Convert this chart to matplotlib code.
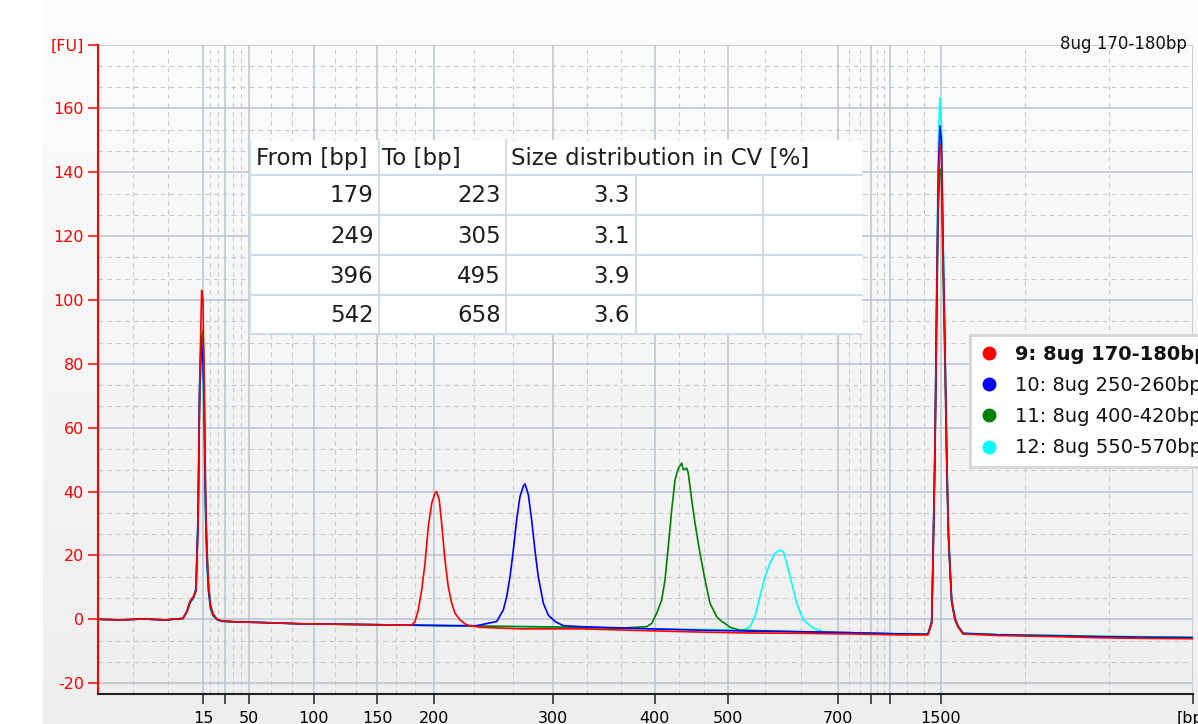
import numpy as np
import matplotlib
matplotlib.use("Agg")
import matplotlib.pyplot as plt
from matplotlib.lines import Line2D
from matplotlib.patches import Rectangle
from matplotlib.ticker import FixedLocator, FixedFormatter, MultipleLocator
from matplotlib.colors import LinearSegmentedColormap

plt.rcParams['font.family'] = ['DejaVu Sans']

# ladder: size [bp] and migration time [s]
ladder_bp = [15, 25, 50, 100, 150, 200, 300, 400, 500, 700, 850, 1000, 1500]
ladder_t = [42.0, 43.47, 45.07, 49.4, 53.6, 57.4, 65.3, 72.1, 77.0, 84.33, 86.5, 87.8, 91.2]
hidden_bp = [25, 850, 1000]

sample_names = ['9: 8ug 170-180bp', '10: 8ug 250-260bp', '11: 8ug 400-420bp', '12: 8ug 550-570bp']
sample_colors = ['#ff0000', '#0000ff', '#008000', '#00ffff']

# baseline before lower marker (same for all samples)
left_t = [35.0, 36.5, 38.0, 39.5, 40.5]
left_fu = [0.0, -0.2, 0.1, -0.2, 0.2]

# lower marker (15 bp)
lo_t = [40.67, 40.93, 41.13, 41.37, 41.53, 41.67, 41.77, 41.87, 41.91, 42.0,
        42.07, 42.13, 42.2, 42.27, 42.37, 42.5, 42.67, 42.93, 43.27, 44.13]
lo_red = [0.3, 2.5, 5.5, 7.0, 9.0, 30, 70, 95, 103, 100, 75, 50, 30, 20, 10, 4.0, 1.5, 0.0, -0.6, -0.8]
lo_blue = [0.3, 2.4, 5.2, 6.8, 9.5, 32, 72, 88, 86, 80, 68, 45, 28, 18, 9, 3.6, 1.3, -0.1, -0.6, -0.8]
lo_green = [0.2, 2.6, 5.6, 7.2, 8.8, 28, 66, 84, 88, 90.5, 80, 55, 33, 22, 11, 4.5, 1.8, 0.1, -0.5, -0.8]
lo_cyan = [0.3, 2.3, 5.0, 6.5, 9.8, 34, 74, 87, 84, 72, 60, 42, 26, 16, 8, 3.2, 1.0, -0.2, -0.7, -0.9]

# sample peaks with surrounding baseline
red_t = [45.8, 48.47, 51.8, 55.13, 55.93, 56.13, 56.35, 56.58, 56.8, 57.02, 57.25, 57.47, 57.58,
         57.75, 57.91, 58.13, 58.35, 58.58, 58.8, 59.13, 59.58, 60.47, 63.13, 67.13, 71.8,
         75.13, 78.47, 81.8, 85.13, 88.47]
red_fu = [-1.0, -1.4, -1.6, -1.8, -1.8, -0.7, 2.9, 9.2, 17.5, 29.0, 36.4, 39.5, 40.0,
          37.4, 30.0, 18.6, 10.2, 5.0, 1.9, -0.2, -1.8, -2.5, -3.0, -3.0, -3.6,
          -4.0, -4.3, -4.4, -4.6, -4.9]

blue_t = [45.8, 48.47, 51.8, 55.13, 58.47, 60.25, 61.58, 62.02, 62.25, 62.47, 62.69, 62.91,
          63.13, 63.35, 63.47, 63.69, 63.91, 64.13, 64.35, 64.69, 65.02, 65.47, 66.02, 67.13,
          71.8, 75.13, 78.47, 81.8, 85.13, 88.47]
blue_fu = [-1.0, -1.4, -1.6, -1.8, -2.0, -2.0, -0.7, 2.9, 7.1, 13.4, 21.7, 31.1,
           38.4, 41.6, 42.4, 39.0, 31.1, 21.7, 13.4, 5.0, 1.3, -0.7, -2.0, -2.3,
           -3.0, -3.4, -3.7, -3.9, -4.2, -4.6]

green_t = [45.8, 48.47, 51.8, 55.13, 58.47, 61.8, 65.13, 69.8, 71.58, 71.91, 72.25, 72.58,
           72.8, 73.02, 73.25, 73.47, 73.69, 73.91, 74.02, 74.25, 74.35, 74.58, 74.8, 75.13,
           75.47, 75.8, 76.25, 76.58, 76.8, 77.13, 77.8, 81.8, 85.13, 88.47]
green_fu = [-1.0, -1.4, -1.6, -1.8, -2.0, -2.2, -2.4, -2.8, -2.3, -1.3, 1.9, 6.0,
            12.3, 22.8, 34.3, 43.7, 47.3, 48.9, 46.8, 47.3, 45.8, 37.4, 30.1, 20.7,
            12.3, 5.0, 0.8, -0.7, -1.3, -2.5, -3.4, -3.9, -4.2, -4.6]

cyan_t = [45.8, 48.47, 51.8, 55.13, 58.47, 61.8, 65.13, 68.47, 71.8, 75.13, 78.02, 78.47,
          78.8, 79.13, 79.47, 79.8, 80.13, 80.47, 80.69, 80.91, 81.25, 81.58, 82.02, 82.69,
          83.35, 84.47, 88.47]
cyan_fu = [-1.0, -1.4, -1.6, -1.8, -2.0, -2.2, -2.4, -2.7, -3.0, -3.2, -3.4, -2.3,
           0.8, 7.1, 13.4, 17.6, 20.7, 21.7, 21.2, 17.6, 11.3, 5.0, -0.2, -2.8,
           -3.9, -4.2, -4.5]

# upper marker (1500 bp)
up_t = [90.33, 90.58, 90.67, 90.8, 90.91, 91.02, 91.13, 91.23, 91.35, 91.47, 91.58,
        91.69, 91.8, 91.91, 92.13, 92.33, 92.67]
up_red = [-4.9, -1.0, 19, 53.5, 97, 135.6, 148.7, 146, 110.5, 82, 51, 27, 16, 5.7, 0.0, -2.3, -4.6]
up_blue = [-4.7, -0.8, 20, 55, 100, 140, 154.5, 150, 114, 84, 52, 28, 16.5, 6.0, 0.3, -2.1, -4.4]
up_green = [-4.7, -1.2, 18, 50, 92, 128, 141, 139, 106, 78, 48, 26, 15, 5.2, -0.2, -2.4, -4.5]
up_cyan = [-4.6, -0.5, 22, 58, 105, 150, 163.4, 155, 118, 87, 55, 30, 17.5, 6.5, 0.5, -2.0, -4.3]

# tail after upper marker
tail_t = [95.13, 98.47, 101.8, 105.13, 108.0]
tail_red = [-5.1, -5.4, -5.8, -6.0, -6.1]
tail_blue = [-4.9, -5.2, -5.5, -5.7, -5.8]
tail_green = [-4.9, -5.1, -5.4, -5.6, -5.7]
tail_cyan = [-4.8, -5.0, -5.3, -5.5, -5.6]

# size table
table_from = [179, 249, 396, 542]
table_to = [223, 305, 495, 658]
table_cv = [3.3, 3.1, 3.9, 3.6]

W, H = 1198, 724
fig = plt.figure(figsize=(W / 100, H / 100), dpi=100)

# background panel with soft vertical gradient
bg = fig.add_axes([0, 0, 1, 1], zorder=0)
bg.set_xlim(0, W)
bg.set_ylim(H, 0)
bg.set_axis_off()
cmap = LinearSegmentedColormap.from_list('bg', ['#fdfdfd', '#eeeeee'])
bg.imshow(np.linspace(0, 1, 256).reshape(-1, 1), cmap=cmap, aspect='auto',
          extent=[43, W, H, 0])

x0, x1 = 35.0, 108.0
ax = fig.add_axes([98 / W, 30 / H, 1095 / W, 649.5 / H], zorder=1)
ax.set_facecolor('none')

traces = [
    (left_t + lo_t + cyan_t + up_t + tail_t, left_fu + lo_cyan + cyan_fu + up_cyan + tail_cyan, 3),
    (left_t + lo_t + green_t + up_t + tail_t, left_fu + lo_green + green_fu + up_green + tail_green, 2),
    (left_t + lo_t + blue_t + up_t + tail_t, left_fu + lo_blue + blue_fu + up_blue + tail_blue, 1),
    (left_t + lo_t + red_t + up_t + tail_t, left_fu + lo_red + red_fu + up_red + tail_red, 0),
]
for t, fu, i in traces:
    ax.plot(t, fu, color=sample_colors[i], lw=1.2, zorder=3)

ax.set_xlim(x0, x1)
ax.set_ylim(-23.4, 180)

# x ticks: ladder sizes, plus [bp] at the right end
xt = ladder_t + [x1]
xl = ['' if b in hidden_bp else str(b) for b in ladder_bp] + ['[bp]']
ax.xaxis.set_major_locator(FixedLocator(xt))
ax.xaxis.set_major_formatter(FixedFormatter(xl))
edges = [x0] + ladder_t + [x1]
minor_x = []
for a, b in zip(edges[:-1], edges[1:]):
    minor_x += [a + (b - a) / 3, a + 2 * (b - a) / 3]
ax.xaxis.set_minor_locator(FixedLocator(minor_x))

yt = list(range(-20, 181, 20))
ax.yaxis.set_major_locator(FixedLocator(yt))
ax.yaxis.set_major_formatter(FixedFormatter([str(v) for v in yt[:-1]] + ['[FU]']))
ax.yaxis.set_minor_locator(MultipleLocator(20 / 3))

ax.tick_params(axis='x', which='major', length=7.2, width=1.1, color='#202020',
               labelsize=11.5, labelcolor='black', pad=5)
ax.tick_params(axis='y', which='major', length=7.2, width=1.1, color='red',
               labelsize=11.5, labelcolor='red', pad=3)
ax.tick_params(which='minor', length=0)

ax.set_axisbelow(True)
ax.grid(which='major', color='#b9c3d1', lw=1.1, ls='-')
ax.grid(which='minor', color='#c8c8c8', lw=0.8, ls=(0, (4, 4)))

for s in ['top', 'right']:
    ax.spines[s].set_visible(False)
ax.spines['left'].set_color('red')
ax.spines['left'].set_linewidth(1.5)
ax.spines['bottom'].set_color('#202020')
ax.spines['bottom'].set_linewidth(1.5)

# overlay in pixel coords for the table
ov = fig.add_axes([0, 0, 1, 1], zorder=3)
ov.set_xlim(0, W)
ov.set_ylim(H, 0)
ov.set_axis_off()

cx = [250, 378.5, 506, 635.5, 763, 862]
ry = [140, 174.5, 214.5, 255, 295, 334]
ov.add_patch(Rectangle((cx[0], ry[0]), cx[-1] - cx[0], ry[-1] - ry[0],
                       facecolor='white', edgecolor='none'))
lc = '#d3dbe6'
for y in ry[1:]:
    ov.plot([cx[0], cx[-1]], [y, y], color=lc, lw=1.5)
for x in [cx[0], cx[1], cx[2]]:
    ov.plot([x, x], [ry[0], ry[-1]], color=lc, lw=1.5)
for x in [cx[3], cx[4]]:
    ov.plot([x, x], [ry[1], ry[-1]], color=lc, lw=1.5)

tc = '#1e1e1e'
fs = 16.5
hy = (ry[0] + ry[1]) / 2 + 1
ov.text(256, hy, 'From [bp]', ha='left', va='center', fontsize=fs, color=tc)
ov.text(382.5, hy, 'To [bp]', ha='left', va='center', fontsize=fs, color=tc)
ov.text(511, hy, 'Size distribution in CV [%]', ha='left', va='center', fontsize=fs, color=tc)
for i in range(len(table_from)):
    yc = (ry[i + 1] + ry[i + 2]) / 2 + 1.5
    ov.text(cx[1] - 5, yc, str(table_from[i]), ha='right', va='center', fontsize=fs, color=tc)
    ov.text(cx[2] - 5, yc, str(table_to[i]), ha='right', va='center', fontsize=fs, color=tc)
    ov.text(cx[3] - 6, yc, '%.1f' % table_cv[i], ha='right', va='center', fontsize=fs, color=tc)

# title at top right
fig.text(1187 / W, 1 - 44 / H, '8ug 170-180bp', ha='right', va='center', fontsize=12, color='#111111')

# legend
handles = [Line2D([], [], marker='o', ls='none', markersize=9, color=c) for c in sample_colors]
leg = fig.legend(handles, sample_names, loc='upper left',
                 bbox_to_anchor=(970 / W, 1 - 335 / H), bbox_transform=fig.transFigure,
                 fontsize=14, frameon=True, fancybox=False, framealpha=1,
                 borderpad=0.5, borderaxespad=0, handlelength=1.0, handletextpad=0.8,
                 labelspacing=0.63)
leg.get_frame().set_edgecolor('#d6d6d6')
leg.get_frame().set_linewidth(2)
leg.set_zorder(10)
leg.get_texts()[0].set_fontweight('bold')
for tx in leg.get_texts():
    tx.set_color('#111111')

fig.savefig('out.png', dpi=100)
